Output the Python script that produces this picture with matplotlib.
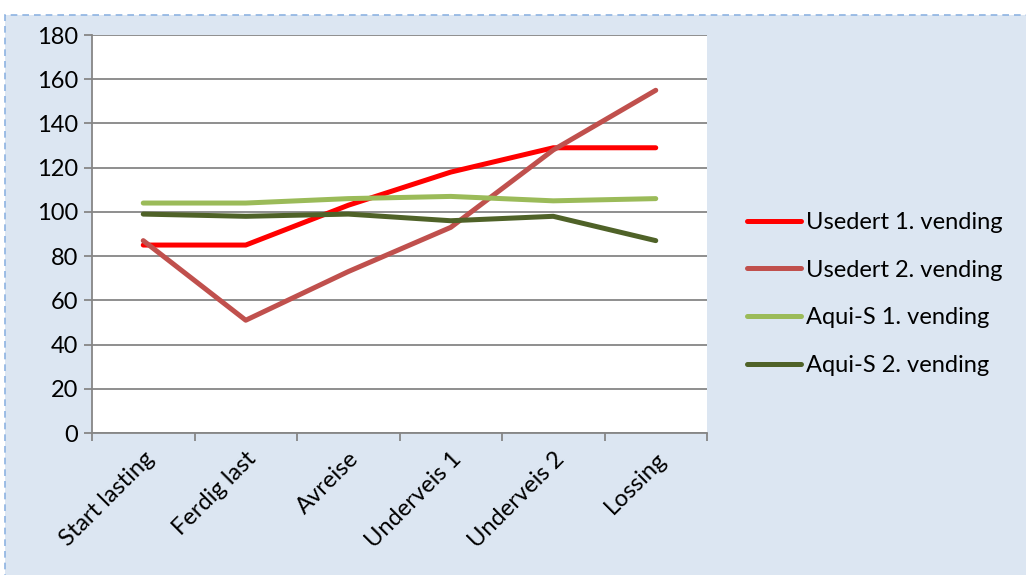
import matplotlib
matplotlib.use("Agg")
import matplotlib.pyplot as plt
from matplotlib.patches import Rectangle
import numpy as np

categories = ["Start lasting", "Ferdig last", "Avreise", "Underveis 1", "Underveis 2", "Lossing"]
usedert_1 = [85, 85, 103, 118, 129, 129]
usedert_2 = [87, 51, 73, 93, 128, 155]
aquis_1 = [104, 104, 106, 107, 105, 106]
aquis_2 = [99, 98, 99, 96, 98, 87]
series_names = ["Usedert 1. vending", "Usedert 2. vending", "Aqui-S 1. vending", "Aqui-S 2. vending"]
colors = ["#FF0000", "#C0504D", "#9BBB59", "#4F6228"]
yticks = list(range(0, 181, 20))

plt.rcParams['font.family'] = ['Lato', 'DejaVu Sans']

W, H = 1026, 575
FS = 17
fig = plt.figure(figsize=(W / 100, H / 100), dpi=100)
fig.patch.set_facecolor("white")
bg = Rectangle((5 / W, -0.01), 1.1, (H - 15) / H + 0.01, transform=fig.transFigure,
               facecolor="#DCE6F2", edgecolor="#8DB3E2", linestyle=(0, (4, 3)), linewidth=1.2,
               zorder=-10)
fig.patches.append(bg)

ax = fig.add_axes([92 / W, (H - 433) / H, (707 - 92) / W, (433 - 35) / H])
ax.set_zorder(1)
ax.set_facecolor("white")
x = np.arange(len(categories))
for vals, name, c in zip([usedert_1, usedert_2, aquis_1, aquis_2], series_names, colors):
    ax.plot(x, vals, color=c, linewidth=3.6, solid_capstyle="round", solid_joinstyle="round",
            label=name, zorder=3)

ax.set_xlim(-0.5, len(categories) - 0.5)
ax.set_ylim(0, 180)
ax.set_yticks(yticks)
ax.yaxis.grid(True, color="#868686", linewidth=1.3)
ax.set_axisbelow(True)
for s in ["top", "right"]:
    ax.spines[s].set_visible(False)
for s in ["left", "bottom"]:
    ax.spines[s].set_color("#868686")
    ax.spines[s].set_linewidth(1.3)
ax.set_xticks(np.arange(len(categories) + 1) - 0.5, minor=False)
ax.set_xticklabels([])
ax.set_xticks(x, minor=True)
ax.set_xticklabels(categories, minor=True, rotation=45, ha="right", rotation_mode="anchor",
                   fontsize=FS)
ax.tick_params(axis="x", which="major", length=6, color="#868686", width=1.3, direction="out")
ax.tick_params(axis="x", which="minor", length=0, pad=11)
ax.tick_params(axis="y", length=6, color="#868686", width=1.3, labelsize=FS, pad=4)

leg = fig.legend(loc="upper left", bbox_to_anchor=(747 / W, 1 - 212 / H), frameon=False,
                 fontsize=FS, handlelength=2.3, handletextpad=0.2, labelspacing=1.13,
                 borderpad=0, borderaxespad=0)

fig.savefig("out.png", dpi=100, facecolor=fig.get_facecolor())
